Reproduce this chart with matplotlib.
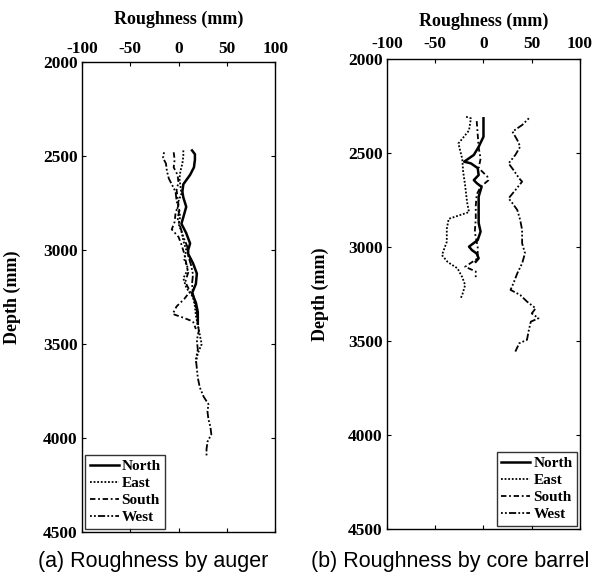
import matplotlib
matplotlib.use('Agg')
import matplotlib.pyplot as plt

plt.rcParams['font.family'] = ['Liberation Serif', 'DejaVu Serif']
plt.rcParams['font.weight'] = 'bold'
plt.rcParams['axes.unicode_minus'] = False

# ── (a) auger ─────────────────────────────────────────
a_north_d = [2470, 2490, 2520, 2560, 2600, 2650, 2690, 2720, 2770, 2825, 2860,
             2910, 2965, 3000, 3020, 3070, 3125, 3180, 3230, 3280, 3330, 3390]
a_north_v = [14, 17, 17, 16, 12, 5, 4, 5, 8, 5, 3, 8, 12, 10, 10, 15, 19, 18, 14, 18, 20, 20]

a_east_d = [2470, 2500, 2540, 2580, 2620, 2660, 2700, 2740, 2780, 2820, 2860, 2900,
            2950, 3000, 3050, 3100, 3150, 3200, 3250, 3300, 3350, 3400, 3450, 3500,
            3550, 3600]
a_east_v = [5, 5, 4, 2, 1, 2, 3, 0, -1, 2, 0, 3, 5, 8, 6, 10, 5, 8, 15, 17, 18, 20,
            22, 24, 20, 18]

a_south_d = [2480, 2520, 2560, 2600, 2640, 2680, 2720, 2760, 2800, 2850, 2890, 2930,
             2970, 3020, 3070, 3120, 3170, 3220, 3260, 3300, 3340, 3360, 3380, 3420]
a_south_v = [-5, -4, -5, -1, 0, -2, -1, 0, -3, -4, -7, 0, 3, 6, 8, 10, 7, 12, 6, -2,
             -6, 5, 15, 18]

a_west_d = [2480, 2510, 2540, 2580, 2620, 2650, 2690, 2740, 2790, 2830, 2880, 2930,
            2980, 3030, 3080, 3130, 3180, 3230, 3280, 3330, 3380, 3430, 3480, 3530,
            3580, 3630, 3680, 3730, 3780, 3820, 3860, 3900, 3940, 3980, 4020, 4060, 4100]
a_west_v = [-15, -16, -13, -12, -10, -7, -3, -2, 1, -1, 2, 5, 9, 10, 13, 15, 14, 15,
            17, 19, 20, 21, 19, 20, 18, 19, 20, 22, 26, 31, 30, 31, 33, 34, 30, 29, 29]

# ── (b) core barrel ───────────────────────────────────
b_north_d = [2315, 2413, 2467, 2510, 2546, 2555, 2580, 2617, 2644, 2660, 2680, 2732,
             2803, 2872, 2918, 2963, 2998, 3016, 3035, 3060, 3078]
b_north_v = [0, 0, -5, -10, -20, -13, -6, -5, -10, -7, -2, -5, -5, -5, -3, -6, -15,
             -12, -7, -5, -8]

b_east_d = [2307, 2315, 2380, 2449, 2530, 2601, 2672, 2761, 2814, 2850, 2903, 2972,
            3043, 3080, 3113, 3160, 3202, 3255, 3277]
b_east_v = [-18, -13, -15, -26, -22, -21, -19, -17, -15, -36, -38, -38, -43, -37,
            -27, -22, -19, -22, -24]

b_south_d = [2330, 2400, 2470, 2530, 2580, 2625, 2645, 2680, 2720, 2780, 2850, 2920,
             3000, 3060, 3105, 3130, 3160]
b_south_v = [-7, -6, -5, -3, -5, 4, 5, -3, -7, -8, -8, -9, -6, -6, -19, -8, -8]

b_west_d = [2315, 2351, 2386, 2431, 2466, 2510, 2555, 2590, 2635, 2652, 2697, 2741,
            2767, 2803, 2856, 2909, 2980, 3033, 3087, 3140, 3193, 3228, 3255, 3290,
            3326, 3353, 3379, 3397, 3441, 3494, 3512, 3556]
b_west_v = [47, 40, 30, 35, 38, 33, 26, 31, 37, 40, 33, 26, 30, 35, 38, 40, 40, 43,
            40, 35, 31, 28, 38, 45, 54, 50, 57, 49, 47, 45, 37, 33]

labels = ['North', 'East', 'South', 'West']
styles = ['-', (0, (1, 1)), (0, (3, 1.5, 1, 1.5)), (0, (1, 1.2, 1, 1.2, 4, 1.2))]
widths = [1.8, 1.3, 1.3, 1.3]

fig = plt.figure(figsize=(5.98, 5.78), dpi=100)
ax_a = fig.add_axes([0.137, 0.0796, 0.323, 0.813])
ax_b = fig.add_axes([0.647, 0.0848, 0.323, 0.813])


def setup(ax, tickpad, labelpad, ylabelx):
    ax.set_xlim(-100, 100)
    ax.set_ylim(4500, 2000)
    ax.set_xticks([-100, -50, 0, 50, 100])
    ax.set_yticks([2000, 2500, 3000, 3500, 4000, 4500])
    ax.xaxis.set_label_position('top')
    ax.tick_params(axis='x', top=True, bottom=True, labeltop=True, labelbottom=False,
                   direction='in', length=3, pad=tickpad, labelsize=12.5)
    ax.tick_params(axis='y', left=True, right=True, direction='in', length=3,
                   pad=3, labelsize=12.5)
    ax.set_xlabel('Roughness (mm)', fontsize=13, fontweight='bold', labelpad=labelpad)
    ax.set_ylabel('Depth (mm)', fontsize=13, fontweight='bold')
    ax.yaxis.set_label_coords(ylabelx, 0.5)
    for s in ax.spines.values():
        s.set_linewidth(1.0)


setup(ax_a, 4, 12, -0.315)
setup(ax_b, 5, 7, -0.30)

for d, v, lab, ls, lw in zip([a_north_d, a_east_d, a_south_d, a_west_d],
                             [a_north_v, a_east_v, a_south_v, a_west_v],
                             labels, styles, widths):
    ax_a.plot(v, d, color='black', linestyle=ls, linewidth=lw, label=lab)

for d, v, lab, ls, lw in zip([b_north_d, b_east_d, b_south_d, b_west_d],
                             [b_north_v, b_east_v, b_south_v, b_west_v],
                             labels, styles, widths):
    ax_b.plot(v, d, color='black', linestyle=ls, linewidth=lw, label=lab)

leg_kw = dict(fontsize=11, frameon=True, fancybox=False, edgecolor='black',
              handlelength=1.9, handletextpad=0.2, labelspacing=0.22,
              borderpad=0.3, borderaxespad=0.2)
la = ax_a.legend(loc='lower left', **leg_kw)
lb = ax_b.legend(loc='lower right', **leg_kw)
for lg in (la, lb):
    lg.get_frame().set_linewidth(1.0)

fig.text(0.256, 0.028, '(a) Roughness by auger', ha='center', va='center',
         fontsize=15.5, fontweight='normal', family='Liberation Sans')
fig.text(0.753, 0.028, '(b) Roughness by core barrel', ha='center', va='center',
         fontsize=15.5, fontweight='normal', family='Liberation Sans')

plt.savefig('out.png', dpi=100, facecolor='white')
